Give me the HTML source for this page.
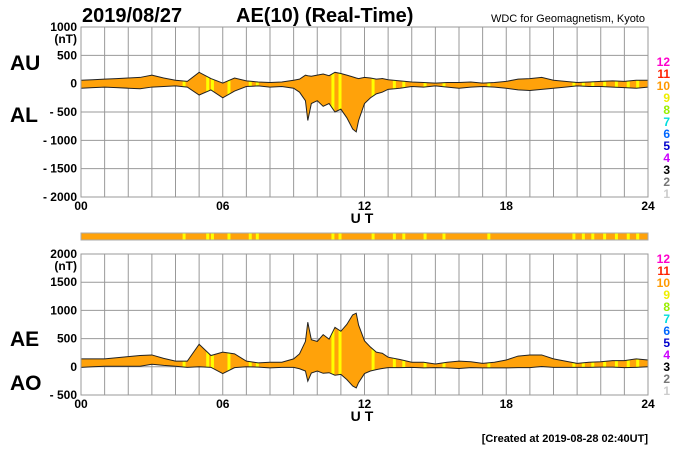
<!DOCTYPE html>
<html><head><meta charset="utf-8"><style>
body{margin:0;background:#fff;width:700px;height:450px;overflow:hidden}
svg{display:block;font-family:"Liberation Sans",sans-serif;font-weight:bold}
</style></head><body>
<svg id="c" width="700" height="450"></svg>
<script>
const hours=[0,0.5,1,1.5,2,2.5,3,3.5,4,4.5,5,5.5,6,6.5,7,7.5,8,8.5,9,9.25,9.5,9.6,9.75,10,10.25,10.5,10.75,11,11.25,11.5,11.65,11.75,12,12.25,12.5,12.75,13,13.5,14,14.5,15,15.5,16,16.5,17,17.5,18,18.5,19,19.5,20,20.5,21,21.5,22,22.5,23,23.5,24];
const au=[60,70,80,90,100,110,150,100,60,40,200,90,10,100,50,30,20,30,60,80,150,140,130,150,170,140,200,180,150,120,100,90,110,100,80,90,70,50,30,20,10,20,20,30,10,20,40,80,90,110,60,40,20,30,40,50,40,60,60];
const al=[-80,-70,-60,-70,-80,-90,-60,-50,-40,-60,-200,-110,-250,-130,-50,-40,-60,-50,-80,-150,-300,-650,-350,-300,-400,-350,-500,-450,-600,-800,-850,-650,-350,-250,-180,-150,-100,-80,-50,-60,-40,-60,-80,-60,-50,-60,-80,-110,-120,-100,-80,-60,-40,-50,-50,-60,-70,-80,-60];
const yellowHours=[4.3,5.3,5.5,6.2,7.1,7.4,10.6,10.9,12.3,13.2,13.6,14.5,15.3,17.2,20.8,21.2,21.6,22.1,22.6,23.1,23.5];
const xTicks=["00","06","12","18","24"];
const yTicksTop=[1000,500,0,-500,-1000,-1500,-2000];
const yTicksBot=[2000,1500,1000,500,0,-500];
const levels=["12","11","10","9","8","7","6","5","4","3","2","1"];
const levelColors=["#f0c","#f20","#f90","#ee0","#9e0","#0dd","#06f","#00c","#c0f","#000","#777","#ccc"];
const NS="http://www.w3.org/2000/svg";
const svg=document.getElementById('c');
function el(t,a,txt,p){const e=document.createElementNS(NS,t);for(const k in a)e.setAttribute(k,a[k]);if(txt!=null)e.textContent=txt;(p||svg).appendChild(e);return e;}
const X0=81,X1=648;
const xs=h=>X0+(X1-X0)*h/24;
function panel(top,bot,vmax,vmin,ticks,upper,lower,name,lab1,lab2,labY1,labY2,legY){
  const ys=v=>top+(bot-top)*(vmax-v)/(vmax-vmin);
  const g=el('g',{});
  
  
  for(let h=0;h<=24;h++){el('line',{x1:xs(h),x2:xs(h),y1:top,y2:bot,stroke:'#999','stroke-width':1},null,g);}
  ticks.forEach(v=>{el('line',{x1:X0,x2:X1,y1:ys(v),y2:ys(v),stroke:'#999','stroke-width':1},null,g);
    const t=el('text',{x:X0-4,y:ys(v)+4,'text-anchor':'end','font-size':12},(v<0?'- '+(-v):''+v),g);
    });
  el('text',{x:X0-4,y:ys(ticks[0])+16,'text-anchor':'end','font-size':12},'(nT)',g);
  let pts=hours.map((h,i)=>xs(h)+','+ys(upper[i]));
  let pts2=hours.map((h,i)=>xs(h)+','+ys(lower[i])).reverse();
  const cid='clip'+name;
  const cp=el('clipPath',{id:cid},null,g);
  el('polygon',{points:pts.concat(pts2).join(' ')},null,cp);
  const area=el('polygon',{points:pts.concat(pts2).join(' '),fill:'#ffa20a',stroke:'none'},null,g);
  
  const sg=el('g',{'clip-path':'url(#'+cid+')'},null,g);
  yellowHours.forEach(h=>{const r=el('rect',{x:xs(h),y:top,width:3,height:bot-top,fill:'#ff0'},null,sg);});
  el('polyline',{points:pts.join(' '),fill:'none',stroke:'#222','stroke-width':1},null,g);
  el('polyline',{points:pts2.join(' '),fill:'none',stroke:'#222','stroke-width':1},null,g);
  el('rect',{x:X0,y:top,width:X1-X0,height:bot-top,fill:'none',stroke:'#999'},null,g);
  xTicks.forEach((s,i)=>{const t=el('text',{x:xs(i*6),y:bot+13,'text-anchor':'middle','font-size':12},s,g);});
  const ut=el('text',{x:364,y:bot+26,'text-anchor':'middle','font-size':14,'letter-spacing':'4'},'UT',g);
  
  const a=el('text',{x:10,y:labY1,'font-size':21},lab1,g);
  const b=el('text',{x:10,y:labY2,'font-size':21},lab2,g);
  levels.forEach((s,i)=>{const t=el('text',{x:670,y:legY+i*12,'text-anchor':'end','font-size':12,fill:levelColors[i]},s,g);});
}
panel(27,197,1000,-2000,yTicksTop,au,al,'top-panel','AU','AL',70,122,66);
const ae=au.map((v,i)=>v-al[i]);
const ao=au.map((v,i)=>(v+al[i])/2);
panel(254,395,2000,-500,yTicksBot,ae,ao,'bottom-panel','AE','AO',346,390,263);
const cb=el('g',{});

el('rect',{x:X0,y:233,width:X1-X0,height:7,fill:'#ffa20a',stroke:'#aaa'},null,cb);
yellowHours.forEach(h=>{const r=el('rect',{x:xs(h),y:233.5,width:3,height:6,fill:'#ff0'},null,cb);});
const t1=el('text',{x:82,y:22,'font-size':20},'2019/08/27');
const t2=el('text',{x:236,y:22,'font-size':20},'AE(10) (Real-Time)');
const t3=el('text',{x:645,y:22,'text-anchor':'end','font-size':11,'font-weight':'normal'},'WDC for Geomagnetism, Kyoto');
const t4=el('text',{x:648,y:442,'text-anchor':'end','font-size':11},'[Created at 2019-08-28 02:40UT]');
</script>
</body></html>
